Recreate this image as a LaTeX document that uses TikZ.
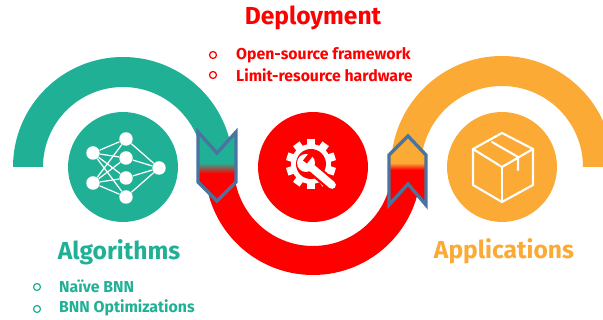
\documentclass[tikz,border=0pt]{standalone}
\usepackage{fontspec}
\setmainfont{Fira Sans}
\definecolor{algoteal}{HTML}{20B096}
\definecolor{apporange}{HTML}{FAAA35}
\definecolor{deployred}{HTML}{FF0000}
\definecolor{chevblue}{HTML}{4A74A0}
\pgfdeclareverticalshading{tealtored}{100bp}{color(0bp)=(deployred); color(45bp)=(deployred); color(52.5bp)=(algoteal); color(100bp)=(algoteal)}
\pgfdeclareverticalshading{orangetored}{100bp}{color(0bp)=(deployred); color(50.5bp)=(deployred); color(55.5bp)=(apporange); color(100bp)=(apporange)}
\tikzset{
  hub/.style={circle,fill=#1,minimum size=2.2cm,inner sep=0pt},
  neuron/.style={circle,fill=white,minimum size=0.27cm,inner sep=0pt},
  synapse/.style={white,line width=0.7pt},
  chevron/.style={draw=chevblue,line width=1.9pt,shading=#1},
  bullet/.style={circle,draw=#1,line width=0.7pt,minimum size=0.14cm,inner sep=0pt},
  heading/.style={font=\bfseries\fontsize{14}{16}\selectfont,text=#1},
  item/.style={font=\bfseries\fontsize{9}{10}\selectfont,text=#1,anchor=west},
  boxline/.style={white,line width=1.2pt,line join=round,line cap=round}
}
\begin{document}
\begin{tikzpicture}[x=0.02cm,y=0.02cm]
  %\draw[help lines](0,0) grid (603,320);
  \useasboundingbox (0,0) rectangle (603,320);
  \clip (0,0) rectangle (603,320);

  % the three bands
  \fill[algoteal] (13,153) arc (180:0:110) -- (203,153) arc (0:180:80) -- cycle;
  \fill[apporange] (391,153) arc (180:0:111) -- (583,153) arc (0:180:81) -- cycle;
  \fill[deployred] (205,153) arc (180:360:108) -- (392,153) arc (0:-180:79) -- cycle;

  % the two chevrons
  \path[chevron=tealtored] (198,188) -- (217,167) -- (236,188) -- (236,138) -- (217,119) -- (198,138) -- cycle;
  \path[chevron=orangetored] (408,184) -- (426,165) -- (426,115) -- (408,136) -- (389,115) -- (389,165) -- cycle;

  % hubs
  \node[hub=algoteal] (algo) at (123,153) {};
  \node[hub=deployred] (deploy) at (313,153) {};
  \node[hub=apporange] (app) at (502,153) {};

  % network icon
  \foreach\Name/\X/\Y in {
    in1/93/167, in2/93/137,
    mid1/126/181, mid2/126/162, mid3/126/142, mid4/126/123,
    out/159/152
    }{\node[neuron] (\Name) at (\X,\Y) {};}
  \foreach\From in {in1,in2}{
    \foreach\To in {mid1,mid2,mid3,mid4}{\draw[synapse] (\From) -- (\To);}
  }
  \foreach\From in {mid1,mid2,mid3,mid4}{\draw[synapse] (\From) -- (out);}

  % gear and spanner icon
  \foreach\Angle in {0,36,...,324}{
    \fill[white,rotate around={\Angle:(311,156)}] (307,170) rectangle (315,181);
  }
  \fill[white] (311,156) circle (20);
  \fill[deployred] (311,156) circle (15);
  \draw[deployred,line width=7pt,line cap=round] (306,157) -- (334,133);
  \fill[white] (306,157) circle (9);
  \draw[white,line width=4.4pt,line cap=round] (306,157) -- (332,135);
  \draw[deployred,line width=2.8pt] (305,158) -- (313,168);

  % box icon
  \draw[boxline] (502,187) -- (533,171) -- (533,135) -- (502,118) -- (473,135) -- (473,171) -- cycle;
  \draw[boxline] (473,171) -- (502,153) -- (533,171);
  \draw[boxline] (502,153) -- (502,118);
  \draw[boxline] (492,178) -- (518,163) -- (518,150);

  % labels
  \node[heading=deployred] (deploytitle) at (313,302) {Deployment};
  \node[heading=algoteal] (algotitle) at (119,68) {Algorithms};
  \node[heading=apporange] (apptitle) at (504,69) {Applications};

  \node[bullet=deployred] (dot1) at (213,265) {};
  \node[bullet=deployred] (dot2) at (213,245) {};
  \node[item=deployred] (fw) at (230,265) {Open-source framework};
  \node[item=deployred] (hw) at (230,245) {Limit-resource hardware};

  \node[bullet=algoteal] (dot3) at (37,33) {};
  \node[bullet=algoteal] (dot4) at (37,11) {};
  \node[item=algoteal] (naive) at (53,34) {Naïve BNN};
  \node[item=algoteal] (opt) at (53,12) {BNN Optimizations};
\end{tikzpicture}
\end{document}
